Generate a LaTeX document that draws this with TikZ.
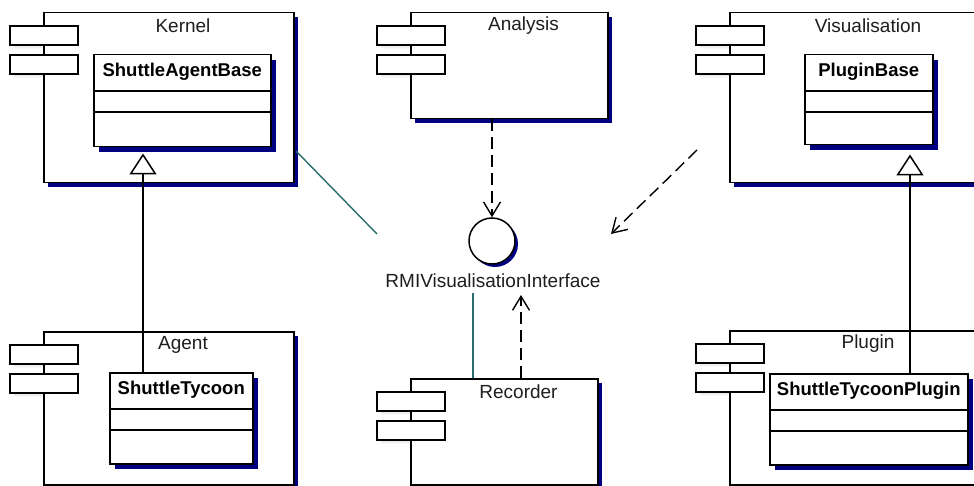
\documentclass[tikz,border=0pt]{standalone}
\usepackage{fontspec}
\setmainfont{Liberation Sans}
\usetikzlibrary{arrows.meta,shadows}

\definecolor{shade}{RGB}{0,0,128}
\definecolor{linkteal}{RGB}{40,110,110}
\definecolor{inkgray}{RGB}{30,30,30}

\tikzset{
  outline/.style={draw=black, line width=1.5pt},
  compbox/.style={outline, fill=white, rectangle, inner sep=0pt, anchor=north west},
  classbox/.style={outline, fill=white, rectangle, inner sep=0pt, anchor=north west},
  navyshadow/.style={drop shadow={shadow xshift=#1, shadow yshift=-#1, fill=shade, opacity=1}},
  navyshadow/.default=4pt,
  title/.style={font=\fontsize{19}{21}\selectfont, text=inkgray, inner sep=0pt},
  classname/.style={font=\fontsize{18.5}{21}\selectfont\bfseries, inner sep=0pt},
  dep/.style={line width=1.4pt, dash pattern=on 12pt off 6pt,
    -{Straight Barb[length=14pt,width=17pt]}},
  assoc/.style={draw=linkteal, line width=1.4pt},
  gen/.style={line width=1.5pt, -{Triangle[open,length=21pt,width=27pt,fill=white]}},
}

% UML component: name, left, top, width, height, label
\newcommand\umlcomp[6]{%
  \fill[shade] ({#2-29},{#3+18}) rectangle ({#2+1},{#3+37});
  \fill[shade] ({#2-29},{#3+47}) rectangle ({#2+1},{#3+66});
  \node[compbox, navyshadow, minimum width=#4pt, minimum height=#5pt] (#1) at (#2,#3) {};
  \draw[outline, fill=white] ({#2-33},{#3+14}) rectangle ({#2+35},{#3+33});
  \draw[outline, fill=white] ({#2-33},{#3+43}) rectangle ({#2+35},{#3+62});
  \node[title] (#1-lbl) at ({#2+#4/2+15},{#3+14}) {#6};
}

% UML class with empty attribute and operation compartments
\newcommand\umlclass[6]{%
  \node[classbox, navyshadow=5pt, minimum width=#4pt, minimum height=#5pt] (#1) at (#2,#3) {};
  \draw[outline] ([yshift=-37pt]#1.north west) -- ([yshift=-37pt]#1.north east);
  \draw[outline] ([yshift=-58pt]#1.north west) -- ([yshift=-58pt]#1.north east);
  \node[classname] (#1-name) at ([yshift=-18pt]#1.north) {#6};
}

\begin{document}
\begin{tikzpicture}[x=1pt, y=-1pt]
  \useasboundingbox (0,0) rectangle (974,486);
  \fill[white] (0,0) rectangle (974,486);
  \clip (0,0) rectangle (974,486);

  % components
  \umlcomp{kernel}{43}{12}{250}{170}{Kernel}
  \umlclass{agentbase}{93}{54}{177}{92}{ShuttleAgentBase}

  \umlcomp{analysis}{410}{12}{197}{106}{Analysis}

  \umlcomp{vis}{729}{12}{248}{170}{Visualisation}
  \umlclass{pluginbase}{804}{54}{128}{90}{PluginBase}

  \umlcomp{agent}{43}{331}{250}{153}{Agent}
  \umlclass{tycoon}{109}{372}{143}{91}{ShuttleTycoon}

  \umlcomp{recorder}{410}{378}{187}{106}{Recorder}

  \umlcomp{plugin}{729}{330}{248}{154}{Plugin}
  \umlclass{tycoonplugin}{769}{373}{198}{91}{ShuttleTycoonPlugin}

  % provided interface
  \node[circle, outline, fill=white, minimum size=46pt, inner sep=0pt,
        drop shadow={shadow xshift=3pt, shadow yshift=-3pt, fill=shade, opacity=1}]
        (iface) at (492,241) {};
  \node[title] (iface-lbl) at (493,281) {RMIVisualisationInterface};

  % connector end points
  \coordinate (k-out) at (296,151);
  \coordinate (k-in)  at (377,234);
  \coordinate (v-out) at (697,150);
  \coordinate (v-in)  at (611,234);
  \coordinate (r-link) at (473,293);
  \coordinate (r-dep)  at (521,295);
  \coordinate (g-left)  at (143,0);
  \coordinate (g-right) at (910,0);

  % dependencies and realisations
  \draw[dep] (analysis.south -| iface.north) -- (iface.north);
  \draw[dep] (v-out) -- (v-in);
  \draw[dep] (recorder.north -| r-dep) -- (r-dep);
  \draw[assoc] (k-out) -- (k-in);
  \draw[assoc] (recorder.north -| r-link) -- (r-link);

  % generalisations
  \draw[gen] (tycoon.north -| g-left) -- ([yshift=-6pt]agentbase.south -| g-left);
  \draw[gen] (tycoonplugin.north -| g-right) -- ([yshift=-9pt]pluginbase.south -| g-right);
\end{tikzpicture}
\end{document}
